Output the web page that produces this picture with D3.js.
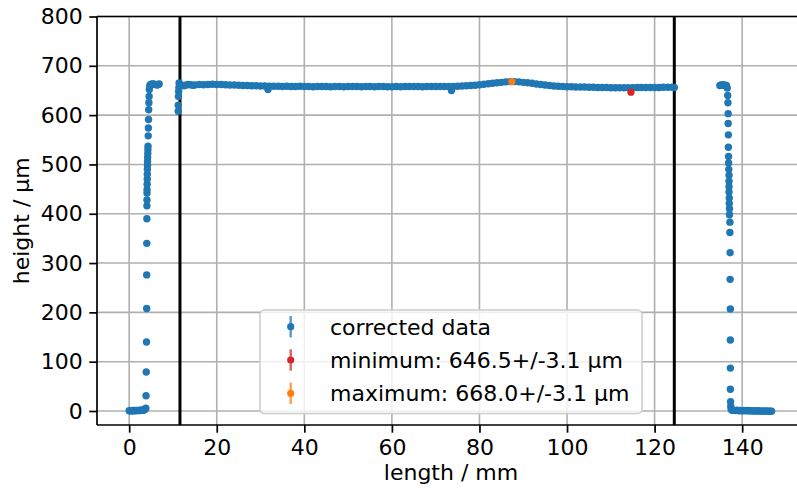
<!DOCTYPE html>
<html><head><meta charset="utf-8">
<script src="https://cdn.jsdelivr.net/npm/d3@7"></script>
<style>html,body{margin:0;padding:0;background:#fff;}svg{display:block;font-family:"DejaVu Sans",sans-serif;}</style>
</head><body><svg id="c" width="797" height="493"></svg>
<script>
// ---- data ----
const lengthLeft = [0.0,0.2,0.4,0.6,0.8,1.0,1.2,1.4,1.6,1.8,2.0,2.2,2.4,2.6,2.8,3.0,3.2,3.4,3.6,3.8,3.85,3.9,3.95,4.0,4.0,4.02,4.04,4.05,4.06,4.07,4.08,4.1,4.12,4.14,4.16,4.18,4.2,4.22,4.25,4.28,4.3,4.35,4.38,4.42,4.46,4.5,4.55,4.6,4.7,4.9,5.2,5.5,5.8,6.1,6.4,6.6,6.85];
const heightLeft = [0.5,0.3,0.8,0.4,0.9,0.6,1.0,0.7,1.1,0.8,1.2,1.0,1.3,1.1,1.5,1.4,1.8,2.2,3.0,5.5,31,79,140,208,276,340,390,416,428,442,449,460,470,480,490,498,506,514,522,530,537,558,574,591,611,625,638,652,660,662,663,663,662,662,661,662,663];

const lengthMid = [11.2,11.2,11.25,11.3,11.35,11.4,11.6,12,12.5,13,13.5,14,14.5,15,16,17,18,19,20,21,22,23,24,25,26,27,28,29,30,31,31.7,32,33,34,35,36,37,38,39,40,41,42,43,44,45,46,47,48,49,50,51,52,53,54,55,56,57,58,59,60,61,62,63,64,65,66,67,68,69,70,71,72,73,73.6,74,75,76,77,78,79,80,81,82,83,84,85,86,87,88,89,90,91,92,93,94,95,96,97,98,99,100,101,102,103,104,105,106,107,108,109,110,111,112,113,114,115,116,117,118,119,120,121,122,123,124,124.5];
const heightMid = [608,620,638,648,656,665,661,660.5,659.5,661,662,661.5,660.5,661,662,661.5,662,662.5,662,662,661.5,661,661,660.5,660,660,659.5,659.5,659,659,652,658.5,658.5,658.5,658,658.5,658,658,658.5,658,658,657.5,658,658,658,657.5,658,658,657.5,658,658,658,657.5,658,658,657.5,658,658,657.5,657.5,658,657.5,658,658,658,658,657.5,658,658,658,658,658,658,650,658,658.5,659,659.5,660,660.5,661.5,662.5,663.5,664.5,665.5,666.5,667.5,668,668,667.5,666.5,665.5,664.5,663,662,661,660,659,658.5,658,657.5,657.5,657,657,657,656.5,656.5,656,656,656,655.5,655.5,655.5,655.5,655.5,655.5,656,656,656,656,656,656,656.5,656.5,656.5,656];

const lengthRight = [134.9,135.2,135.5,135.8,136.1,136.4,136.6,136.7,136.75,136.8,136.8,136.85,136.85,136.9,136.9,136.95,137.0,137.0,137.0,137.0,137.05,137.05,137.1,137.1,137.2,137.2,137.25,137.25,137.3,137.3,137.3,137.3,137.35,137.4,137.5,137.7,138.0,138.4,138.8,139.2,139.6,140.0,140.4,140.8,141.2,141.6,142.0,142.4,142.8,143.2,143.6,144.0,144.4,144.8,145.2,145.6,146.0,146.4,146.7];
const heightRight = [660,661,661,661,660.5,660,655,640,625,603,583,560,535,516,503,490,478,466,455,444,432,421,410,398,383,362,321,267,207,144,87,44,19,9,3,1.5,1.2,0.8,1.4,0.6,1.0,0.5,1.1,0.3,0.9,0.2,0.7,-0.2,0.5,-0.3,0.4,0.0,-0.4,0.2,-0.5,0.1,-0.6,-0.2,-0.4];

const minPoint = {length: 114.6, height: 646.5};
const maxPoint = {length: 87.4, height: 668.0};
const heightErr = 3.1;
const roiLines = [11.6, 124.5];
const xTicks = [0,20,40,60,80,100,120,140];
const yTicks = [0,100,200,300,400,500,600,700,800];
const legendLabels = ["corrected data","minimum: 646.5+/-3.1 µm","maximum: 668.0+/-3.1 µm"];
const colors = ["#1f77b4","#d62728","#ff7f0e"];

// ---- drawing ----
const svg = d3.select("#c");
const L = 97, R = 805, T = 16.5, B = 425;
const x = d3.scaleLinear().domain([-7.35,154.35]).range([L,R]);
const y = d3.scaleLinear().domain([-28.4,800]).range([B,T]);
const fs = 22;

const corrected = [];
[[lengthLeft,heightLeft],[lengthMid,heightMid],[lengthRight,heightRight]].forEach(([ls,hs])=>{
  ls.forEach((l,i)=>corrected.push({length:l,height:hs[i]}));
});

const defs = svg.append("defs");
defs.append("clipPath").attr("id","clip").append("rect").attr("x",L).attr("y",T).attr("width",R-L).attr("height",B-T);

// grid
const grid = svg.append("g");
grid.selectAll(".gx").data(xTicks).enter().append("line")
  .attr("x1",d=>x(d)).attr("x2",d=>x(d)).attr("y1",T).attr("y2",B)
  .attr("stroke","#b0b0b0").attr("stroke-width",1.6);
grid.selectAll(".gy").data(yTicks).enter().append("line")
  .attr("x1",L).attr("x2",R).attr("y1",d=>y(d)).attr("y2",d=>y(d))
  .attr("stroke","#b0b0b0").attr("stroke-width",1.6);

// roi lines
svg.append("g").selectAll("line").data(roiLines).enter().append("line")
  .attr("x1",d=>x(d)).attr("x2",d=>x(d)).attr("y1",T).attr("y2",B)
  .attr("stroke","#000").attr("stroke-width",3);

const plot = svg.append("g").attr("clip-path","url(#clip)");
function drawSeries(data,color,r){
  const g = plot.append("g");
  g.selectAll("line").data(data).enter().append("line")
    .attr("x1",d=>x(d.length)).attr("x2",d=>x(d.length))
    .attr("y1",d=>y(d.height-heightErr)).attr("y2",d=>y(d.height+heightErr))
    .attr("stroke",color).attr("stroke-width",2.2);
  g.selectAll("circle").data(data).enter().append("circle")
    .attr("cx",d=>x(d.length)).attr("cy",d=>y(d.height)).attr("r",r).attr("fill",color);
}
drawSeries(corrected,colors[0],3.7);
drawSeries([minPoint],colors[1],3.6);
drawSeries([maxPoint],colors[2],3.6);

// axes
const xAxis = d3.axisBottom(x).tickValues(xTicks).tickSize(7.7).tickPadding(6.5).tickFormat(d3.format("d"));
const yAxis = d3.axisLeft(y).tickValues(yTicks).tickSize(7.7).tickPadding(6.5).tickFormat(d3.format("d"));
const gx = svg.append("g").attr("transform",`translate(0,${B})`).call(xAxis);
const gy = svg.append("g").attr("transform",`translate(${L},0)`).call(yAxis);
[gx,gy].forEach(g=>{
  g.select(".domain").remove();
  g.selectAll(".tick line").attr("stroke","#000").attr("stroke-width",1.7);
  g.selectAll(".tick text").attr("fill","#000").style("font-size",fs+"px").style("font-family","DejaVu Sans");
});
// spines
svg.append("line").attr("x1",L).attr("x2",L).attr("y1",T).attr("y2",B).attr("stroke","#000").attr("stroke-width",1.7);
svg.append("line").attr("x1",L).attr("x2",R).attr("y1",B).attr("y2",B).attr("stroke","#000").attr("stroke-width",1.7);
svg.append("line").attr("x1",L).attr("x2",R).attr("y1",T).attr("y2",T).attr("stroke","#000").attr("stroke-width",1.7);
svg.append("line").attr("x1",R).attr("x2",R).attr("y1",T).attr("y2",B).attr("stroke","#000").attr("stroke-width",1.7);

// axis labels
svg.append("text").attr("x",(L+R)/2).attr("y",480).attr("text-anchor","middle")
  .style("font-size",fs+"px").text("length / mm");
svg.append("text").attr("transform",`translate(29,${(T+B)/2}) rotate(-90)`).attr("text-anchor","middle")
  .style("font-size",fs+"px").text("height / µm");

// legend
const lg = svg.append("g");
lg.append("rect").attr("x",260).attr("y",310).attr("width",382).attr("height",103.5).attr("rx",4.5)
  .attr("fill","#fff").attr("fill-opacity",0.8).attr("stroke","#cccccc").attr("stroke-width",1.5);
legendLabels.forEach((lab,i)=>{
  const cy = 326.7 + i*33.3;
  lg.append("line").attr("x1",290.7).attr("x2",290.7).attr("y1",cy-10.7).attr("y2",cy+10.7)
    .attr("stroke",colors[i]).attr("stroke-width",2.4).attr("stroke-opacity",0.75);
  lg.append("circle").attr("cx",290.7).attr("cy",cy).attr("r",3.6).attr("fill",colors[i]);
  lg.append("text").attr("x",330).attr("y",cy+8).style("font-size",fs+"px").text(lab);
});
</script></body></html>
